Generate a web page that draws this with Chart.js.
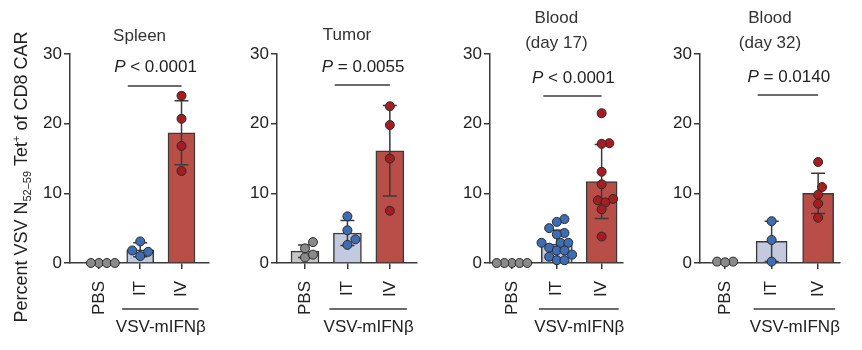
<!DOCTYPE html>
<html>
<head>
<meta charset="utf-8">
<script src="https://cdn.jsdelivr.net/npm/chart.js@4.4.0/dist/chart.umd.min.js"></script>
<style>
  body { margin: 0; background: #fff; width: 862px; height: 350px; overflow: hidden; position: relative; }
  canvas { position: absolute; top: 0; }
</style>
</head>
<body>
<canvas id="c0"></canvas>
<canvas id="c1"></canvas>
<canvas id="c2"></canvas>
<canvas id="c3"></canvas>
<script>
const groups = ['PBS', 'IT', 'IV'];
const yTicks = [0, 10, 20, 30];
const titles = [['Spleen'], ['Tumor'], ['Blood', '(day 17)'], ['Blood', '(day 32)']];
const pValues = ['< 0.0001', '= 0.0055', '< 0.0001', '= 0.0140'];
const treatLabel = 'VSV-mIFN\u03b2';

// bar = mean, whisker = SD, order PBS / IT / IV
const spleenMean = [0, 1.9, 18.7];
const spleenSD = [0, 1.0, 4.6];
const spleenPBS = [0, 0, 0, 0];
const spleenIT = [3.1, 1.8, 1.0, 1.6];
const spleenIV = [24.0, 20.7, 16.8, 13.2];

const tumorMean = [1.7, 4.3, 16.1];
const tumorSD = [0.9, 1.8, 6.5];
const tumorPBS = [3.0, 2.1, 0.8, 1.2];
const tumorIT = [6.7, 4.7, 3.4, 2.6];
const tumorIV = [22.5, 19.8, 15.0, 7.5];

const d17Mean = [0, 2.7, 11.7];
const d17SD = [0, 2.0, 5.3];
const d17PBS = [0, 0, 0, 0, 0];
const d17IT = [6.3, 5.9, 5.0, 4.3, 4.1, 2.9, 2.9, 2.9, 2.2, 1.8, 1.8, 1.2, 0.9, 0.4, 0.4];
const d17IV = [21.5, 17.2, 17.1, 13.1, 11.3, 9.2, 9.0, 8.7, 7.7, 3.8];

const d32Mean = [0.1, 3.1, 10.0];
const d32SD = [0.1, 2.9, 2.9];
const d32PBS = [0.2, 0.2, 0.1];
const d32IT = [6.0, 3.3, 0.2];
const d32IV = [14.5, 10.9, 9.8, 8.5, 6.5];

const FONT = '"Liberation Sans", Arial, sans-serif';
const barFill = ['#c6c6c6', '#c3cadf', '#b94e48'];
const dotFill = ['#8a8a8a', '#3e6db3', '#a61d21'];
const lineCol = '#3a3a3a';
const textCol = '#222';

const panels = [
  { mean: spleenMean, sd: spleenSD, dots: [spleenPBS, spleenIT, spleenIV], left: 0, width: 215, axisX: 70, endX: 210, min: -0.70, max: 2.67, bar: 27, titleY: [36], pY: 67, lineY: 86 },
  { mean: tumorMean, sd: tumorSD, dots: [tumorPBS, tumorIT, tumorIV], left: 215, width: 210, axisX: 277, endX: 417, min: -0.66, max: 2.64, bar: 28, titleY: [35], pY: 67, lineY: 85 },
  { mean: d17Mean, sd: d17SD, dots: [d17PBS, d17IT, d17IV], left: 425, width: 210, axisX: 490, endX: 629, min: -0.49, max: 2.47, bar: 31, titleY: [18, 43], pY: 78, lineY: 96 },
  { mean: d32Mean, sd: d32SD, dots: [d32PBS, d32IT, d32IV], left: 635, width: 227, axisX: 700, endX: 840, min: -0.54, max: 2.47, bar: 31, titleY: [18, 43], pY: 77, lineY: 95 }
];

const TOP = 54, BOTTOM = 263;

// simple beeswarm so dots with equal values sit side by side
function swarm(values, center, pxX, pxY, d) {
  const placed = [];
  const out = new Array(values.length);
  const order = values.map((v, i) => i).sort((a, b) => values[a] - values[b]);
  order.forEach(i => {
    const py = values[i] * pxY;
    for (let k = 0; k < 60; k++) {
      const off = (k % 2 ? 1 : -1) * Math.ceil(k / 2) * d / 2;
      if (placed.every(q => Math.hypot(q.x - off, q.y - py) >= d)) {
        placed.push({ x: off, y: py });
        out[i] = { x: center + off / pxX, y: values[i] };
        break;
      }
    }
  });
  return out;
}

function decor(p, idx) {
  return {
    id: 'decor' + idx,
    afterDatasetDraw(chart, args) {
      if (args.meta.type !== 'bar') return;
      const ctx = chart.ctx, x = chart.scales.x, y = chart.scales.y;
      ctx.save();
      ctx.strokeStyle = lineCol;
      ctx.lineWidth = 1.5;
      p.mean.forEach((m, i) => {
        if (!p.sd[i]) return;
        const cx = x.getPixelForValue(i);
        const yt = y.getPixelForValue(m + p.sd[i]);
        const yb = y.getPixelForValue(Math.max(m - p.sd[i], 0));
        ctx.beginPath();
        ctx.moveTo(cx, yt); ctx.lineTo(cx, yb);
        ctx.moveTo(cx - 7, yt); ctx.lineTo(cx + 7, yt);
        ctx.moveTo(cx - 7, yb); ctx.lineTo(cx + 7, yb);
        ctx.stroke();
      });
      ctx.restore();
    },
    afterDraw(chart) {
      const ctx = chart.ctx, x = chart.scales.x, area = chart.chartArea;
      ctx.save();
      ctx.strokeStyle = lineCol;
      ctx.lineWidth = 1.5;
      ctx.textBaseline = 'middle';
      ctx.textAlign = 'center';

      // panel title
      ctx.font = '17px ' + FONT;
      ctx.fillStyle = '#333';
      titles[idx].forEach((t, j) => ctx.fillText(t, (area.left + area.right) / 2, p.titleY[j]));

      // significance
      ctx.fillStyle = textCol;
      const pc = x.getPixelForValue(1.37);
      ctx.font = 'italic 17px ' + FONT;
      const w1 = ctx.measureText('P').width;
      ctx.font = '17px ' + FONT;
      const rest = ' ' + pValues[idx];
      const w2 = ctx.measureText(rest).width;
      ctx.textAlign = 'left';
      ctx.font = 'italic 17px ' + FONT;
      ctx.fillText('P', pc - (w1 + w2) / 2, p.pY);
      ctx.font = '17px ' + FONT;
      ctx.fillText(rest, pc - (w1 + w2) / 2 + w1, p.pY);
      ctx.beginPath();
      ctx.moveTo(x.getPixelForValue(0.7), p.lineY);
      ctx.lineTo(x.getPixelForValue(2.0), p.lineY);
      ctx.stroke();

      // treatment bracket
      const a = x.getPixelForValue(1) - 18, b = x.getPixelForValue(2) + 17;
      ctx.beginPath();
      ctx.moveTo(a, 309); ctx.lineTo(b, 309);
      ctx.stroke();
      ctx.textAlign = 'center';
      ctx.fillText(treatLabel, (x.getPixelForValue(1) + x.getPixelForValue(2)) / 2, 327);

      // y title, first panel only
      if (idx === 0) {
        const segs = [
          { t: 'Percent VSV N', s: 18, dy: 0 },
          { t: '52\u201359', s: 11, dy: 4 },
          { t: ' Tet', s: 18, dy: 0 },
          { t: '+', s: 11, dy: -7 },
          { t: ' of CD8 CAR', s: 18, dy: 0 }
        ];
        let total = 0;
        segs.forEach(sg => { ctx.font = sg.s + 'px ' + FONT; sg.w = ctx.measureText(sg.t).width; total += sg.w; });
        ctx.translate(20, 177);
        ctx.rotate(-Math.PI / 2);
        ctx.textAlign = 'left';
        ctx.textBaseline = 'alphabetic';
        let cx = -total / 2;
        segs.forEach(sg => {
          ctx.font = sg.s + 'px ' + FONT;
          ctx.fillText(sg.t, cx, 6.5 + sg.dy);
          cx += sg.w;
        });
      }
      ctx.restore();
    }
  };
}

panels.forEach((p, idx) => {
  const cv = document.getElementById('c' + idx);
  cv.width = p.width;
  cv.height = 350;
  cv.style.left = p.left + 'px';

  const pxX = (p.endX - p.axisX) / (p.max - p.min);
  const pxY = (BOTTOM - TOP) / 30;

  const dotSets = p.dots.map((vals, g) => ({
    type: 'scatter',
    order: 1,
    data: swarm(vals, g, pxX, pxY, 8),
    backgroundColor: dotFill[g],
    borderColor: '#2a2a2a',
    borderWidth: 1,
    pointRadius: 4.5,
    clip: false
  }));

  const gridOpts = { offset: false, drawOnChartArea: false, drawTicks: true, tickLength: 6, color: lineCol, lineWidth: 1.5 };

  new Chart(cv, {
    type: 'bar',
    data: {
      datasets: [
        ...dotSets,
        {
          type: 'bar',
          order: 2,
          data: p.mean.map((m, i) => ({ x: i, y: m })),
          backgroundColor: barFill,
          borderColor: lineCol,
          borderWidth: 1.5,
          barThickness: p.bar
        }
      ]
    },
    options: {
      responsive: false,
      animation: false,
      events: [],
      layout: { padding: { top: TOP, right: p.left + p.width - p.endX, left: 0, bottom: 0 } },
      plugins: { legend: { display: false }, tooltip: { enabled: false } },
      scales: {
        x: {
          type: 'linear',
          offset: false,
          min: p.min,
          max: p.max,
          afterBuildTicks: s => { s.ticks = groups.map((g, i) => ({ value: i })); },
          afterFit: s => { s.height = 350 - BOTTOM; },
          ticks: {
            callback: v => groups[Math.round(v)],
            minRotation: 90, maxRotation: 90, autoSkip: false,
            padding: 12, color: textCol, font: { family: FONT, size: 17 }
          },
          grid: gridOpts,
          border: { color: lineCol, width: 1.5 }
        },
        y: {
          min: 0,
          max: 30,
          afterBuildTicks: s => { s.ticks = yTicks.map(v => ({ value: v })); },
          afterFit: s => { s.width = p.axisX - p.left; },
          ticks: { padding: 2, color: textCol, font: { family: FONT, size: 17 } },
          grid: gridOpts,
          border: { color: lineCol, width: 1.5 }
        }
      }
    },
    plugins: [decor(p, idx)]
  });
});
</script>
</body>
</html>
